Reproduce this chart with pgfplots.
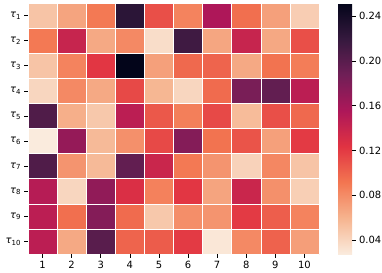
\documentclass[border=0pt]{standalone}
\usepackage{pgfplots}
\pgfplotsset{compat=1.18}
\usepackage{fontspec}
\setmainfont{DejaVu Sans}
\pgfplotstableread{
x y c
1 1 0.050
2 1 0.068
3 1 0.090
4 1 0.226
5 1 0.110
6 1 0.085
7 1 0.155
8 1 0.095
9 1 0.070
10 1 0.045
1 2 0.090
2 2 0.140
3 2 0.065
4 2 0.082
5 2 0.036
6 2 0.214
7 2 0.067
8 2 0.140
9 2 0.066
10 2 0.110
1 3 0.050
2 3 0.085
3 3 0.122
4 3 0.2516
5 3 0.070
6 3 0.098
7 3 0.100
8 3 0.065
9 3 0.093
10 3 0.088
1 4 0.040
2 4 0.082
3 4 0.065
4 4 0.113
5 4 0.058
6 4 0.040
7 4 0.097
8 4 0.183
9 4 0.195
10 4 0.147
1 5 0.205
2 5 0.062
3 5 0.048
4 5 0.147
5 5 0.106
6 5 0.087
7 5 0.113
8 5 0.055
9 5 0.110
10 5 0.098
1 6 0.0276
2 6 0.168
3 6 0.056
4 6 0.078
5 6 0.113
6 6 0.177
7 6 0.093
8 6 0.108
9 6 0.070
10 6 0.120
1 7 0.205
2 7 0.076
3 7 0.056
4 7 0.195
5 7 0.138
6 7 0.090
7 7 0.076
8 7 0.042
9 7 0.083
10 7 0.050
1 8 0.150
2 8 0.040
3 8 0.170
4 8 0.128
5 8 0.086
6 8 0.122
7 8 0.068
8 8 0.138
9 8 0.078
10 8 0.044
1 9 0.147
2 9 0.095
3 9 0.177
4 9 0.097
5 9 0.048
6 9 0.079
7 9 0.076
8 9 0.120
9 9 0.103
10 9 0.085
1 10 0.147
2 10 0.065
3 10 0.200
4 10 0.100
5 10 0.104
6 10 0.120
7 10 0.030
8 10 0.082
9 10 0.101
10 10 0.071
}\heat
\begin{document}
\begin{tikzpicture}
\useasboundingbox (-28bp,-19bp) rectangle (354bp,254bp);
\begin{axis}[
  name=main,
  at={(0,0)}, anchor=south west,
  scale only axis,
  width=291bp, height=251bp,
  xmin=0.5, xmax=10.5, ymin=0.5, ymax=10.5,
  enlargelimits=false,
  y dir=reverse,
  axis line style={draw=none},
  xtick={1,...,10},
  ytick={1,...,10},
  yticklabels={\textit{τ}\textsubscript{1},\textit{τ}\textsubscript{2},\textit{τ}\textsubscript{3},\textit{τ}\textsubscript{4},\textit{τ}\textsubscript{5},\textit{τ}\textsubscript{6},\textit{τ}\textsubscript{7},\textit{τ}\textsubscript{8},\textit{τ}\textsubscript{9},\textit{τ}\textsubscript{10}},
  tick align=outside,
  xtick pos=bottom, ytick pos=left,
  major tick length=3.5bp,
  tick style={black, line width=0.6pt},
  tick label style={font=\fontsize{10}{12}\selectfont},
  /pgf/number format/assume math mode=true,
  minor xtick={0.5,1.5,...,10.5},
  minor ytick={0.5,1.5,...,10.5},
  minor tick length=0pt,
  xminorgrids, yminorgrids,
  minor grid style={white, line width=0.6pt},
  axis on top,
  colormap={rocketr}{rgb255=(250,235,221) rgb255=(246,180,143) rgb255=(243,118,81) rgb255=(225,51,66) rgb255=(173,23,89) rgb255=(112,31,87) rgb255=(53,25,62) rgb255=(3,5,26)},
  point meta min=0.0276, point meta max=0.2516,
  colorbar,
  colorbar style={
    width=14bp,
    at={(parent axis.north east)}, anchor=north west, xshift=-0.3cm, xshift=19bp,
    axis line style={draw=none},
    ytick={0.04,0.08,...,0.241},
    yticklabel style={font=\fontsize{10}{12}\selectfont, /pgf/number format/.cd, fixed, fixed zerofill, precision=2, assume math mode=true},
    major tick length=3.5bp,
    tick style={black, line width=0.6pt},
    tick align=outside,
    ytick pos=right,
  },
]
\addplot[matrix plot*, mesh/cols=10, point meta=explicit] table[x=x, y=y, meta=c] {\heat};
\end{axis}
\end{tikzpicture}
\end{document}
